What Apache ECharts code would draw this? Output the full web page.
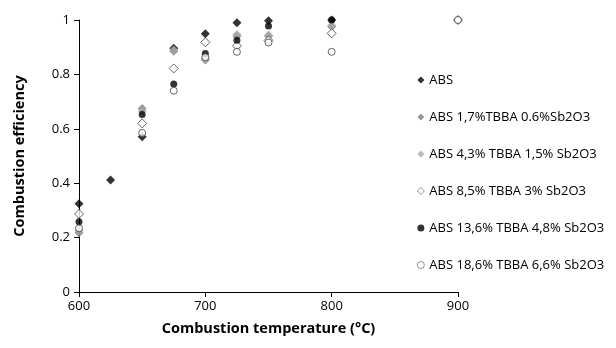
<!DOCTYPE html>
<html>
<head>
<meta charset="utf-8">
<script src="https://cdn.jsdelivr.net/npm/echarts@6/dist/echarts.min.js"></script>
<style>html,body{margin:0;padding:0;background:#fff;}#c{width:616px;height:348px;}</style>
</head>
<body>
<div id="c"></div>
<script>
const seriesNames = [
  'ABS',
  'ABS 1,7%TBBA 0.6%Sb2O3',
  'ABS 4,3% TBBA 1,5% Sb2O3',
  'ABS 8,5% TBBA 3% Sb2O3',
  'ABS 13,6% TBBA 4,8% Sb2O3',
  'ABS 18,6% TBBA 6,6% Sb2O3'
];
const tempsABS = [600, 625, 650, 675, 700, 725, 750, 800];
const valsABS = [0.324, 0.412, 0.571, 0.896, 0.949, 0.99, 0.997, 1.0];
const temps2 = [600, 650, 675, 700, 725, 750, 800];
const vals2 = [0.218, 0.675, 0.885, 0.853, 0.94, 0.94, 0.975];
const temps3 = [600, 650, 675, 700, 725, 750, 800];
const vals3 = [0.225, 0.665, 0.89, 0.86, 0.947, 0.945, 0.98];
const temps4 = [600, 650, 675, 700, 725, 750, 800, 900];
const vals4 = [0.287, 0.62, 0.822, 0.918, 0.905, 0.925, 0.951, 1.0];
const temps5 = [600, 650, 675, 700, 725, 750, 800];
const vals5 = [0.258, 0.653, 0.765, 0.877, 0.926, 0.978, 1.0];
const temps6 = [600, 650, 675, 700, 725, 750, 800, 900];
const vals6 = [0.234, 0.585, 0.74, 0.863, 0.883, 0.917, 0.883, 1.0];
const xTicks = [600, 700, 800, 900];
const yTicks = [0, 0.2, 0.4, 0.6, 0.8, 1];

const pairs = (xs, ys) => xs.map((x, i) => [x, ys[i]]);
const FONT = 'Open Sans';
const styles = [
  {symbol: 'diamond', size: 9, item: {color: '#000000'}},
  {symbol: 'diamond', size: 9, item: {color: '#7f7f7f'}},
  {symbol: 'diamond', size: 9, item: {color: '#a6a6a6'}},
  {symbol: 'diamond', size: 9, item: {color: '#ffffff', borderColor: '#404040', borderWidth: 1}},
  {symbol: 'circle', size: 7, item: {color: '#000000'}},
  {symbol: 'circle', size: 7, item: {color: '#ffffff', borderColor: '#404040', borderWidth: 1}}
];
const datas = [pairs(tempsABS, valsABS), pairs(temps2, vals2), pairs(temps3, vals3), pairs(temps4, vals4), pairs(temps5, vals5), pairs(temps6, vals6)];

const chart = echarts.init(document.getElementById('c'), null, {renderer: 'canvas'});
chart.setOption({
  animation: false,
  backgroundColor: '#ffffff',
  grid: {left: 79, right: 158, top: 20, bottom: 56, containLabel: false},
  legend: {
    orient: 'vertical', left: 417, top: 73, padding: 0,
    itemWidth: 7, itemHeight: 7, itemGap: 23,
    textStyle: {fontFamily: FONT, fontSize: 13, color: '#000', lineHeight: 14},
    data: seriesNames.map((n, i) => ({
      name: n, icon: styles[i].symbol,
      itemStyle: styles[i].item.borderColor ? {borderWidth: 0.7} : undefined
    }))
  },
  xAxis: {
    type: 'value', min: 600, max: 900, interval: 100,
    name: 'Combustion temperature (°C)', nameLocation: 'middle', nameGap: 29,
    nameTextStyle: {fontFamily: FONT, fontSize: 14.5, fontWeight: 'bold', color: '#000'},
    axisLine: {lineStyle: {color: '#000', width: 1}},
    axisTick: {show: true, length: 5, lineStyle: {color: '#000'}},
    axisLabel: {fontFamily: FONT, fontSize: 13, color: '#000', margin: 8,
      formatter: v => xTicks.includes(v) ? String(v) : ''},
    splitLine: {show: false}
  },
  yAxis: {
    type: 'value', min: 0, max: 1, interval: 0.2,
    name: 'Combustion efficiency', nameLocation: 'middle', nameGap: 52, nameRotate: 90,
    nameTextStyle: {fontFamily: FONT, fontSize: 14.5, fontWeight: 'bold', color: '#000'},
    axisLine: {show: true, lineStyle: {color: '#000', width: 1}},
    axisTick: {show: true, length: 5, lineStyle: {color: '#000'}},
    axisLabel: {fontFamily: FONT, fontSize: 13, color: '#000', margin: 9,
      formatter: v => { const t = yTicks.find(y => Math.abs(y - v) < 1e-9); return t === undefined ? '' : String(t); }},
    splitLine: {show: false}
  },
  series: seriesNames.map((n, i) => ({
    name: n, type: 'scatter', symbol: styles[i].symbol, symbolSize: styles[i].size,
    itemStyle: styles[i].item, data: datas[i], z: 2 + i
  }))
});
</script>
</body>
</html>
